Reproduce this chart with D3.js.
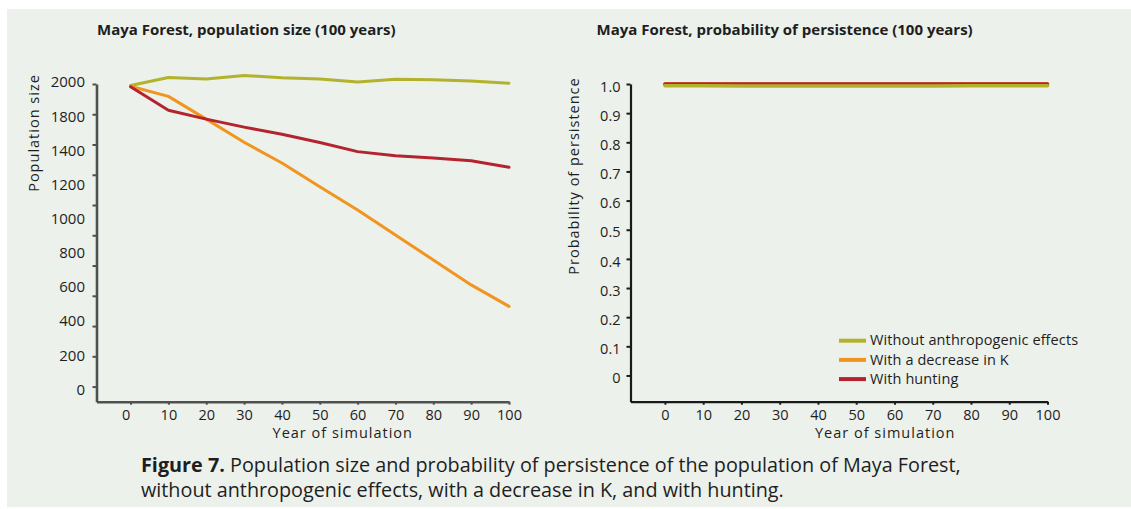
<!DOCTYPE html>
<html>
<head>
<meta charset="utf-8">
<script src="https://cdn.jsdelivr.net/npm/d3@7"></script>
<style>
  html, body { margin: 0; padding: 0; background: #ffffff; }
  svg { display: block; }
  text { font-family: "Open Sans", "Noto Sans", sans-serif; fill: #1e1e1e; }
</style>
</head>
<body>
<svg id="fig" width="1131" height="509"></svg>
<script>
// ---- data ----
const years = [0, 10, 20, 30, 40, 50, 60, 70, 80, 90, 100];

// population size over 100 years
const popWithout  = [1990, 2043, 2033, 2056, 2041, 2033, 2014, 2031, 2028, 2020, 2005];
const popDecreaseK = [1985, 1918, 1768, 1615, 1478, 1321, 1167, 1002, 837, 672, 530];
const popHunting  = [1982, 1826, 1768, 1715, 1668, 1613, 1553, 1525, 1511, 1492, 1450];

// probability of persistence over 100 years
const probWithout  = [0.994, 0.994, 0.993, 0.993, 0.993, 0.993, 0.993, 0.993, 0.994, 0.994, 0.994];
const probDecreaseK = [1.0, 1.0, 1.0, 1.0, 1.0, 1.0, 1.0, 1.0, 1.0, 1.0, 1.0];
const probHunting  = [1.0, 1.0, 1.0, 1.0, 1.0, 1.0, 1.0, 1.0, 1.0, 1.0, 1.0];

// tick values and labels
const popTicks = [0, 200, 400, 600, 800, 1000, 1200, 1400, 1600, 1800, 2000];
const popTickLabels = ["2000", "1800", "1400", "1200", "1000", "800", "600", "400", "200", "0"];
const probTicks = [0, 0.1, 0.2, 0.3, 0.4, 0.5, 0.6, 0.7, 0.8, 0.9, 1.0];
const yearTicks = [0, 10, 20, 30, 40, 50, 60, 70, 80, 90, 100];

const seriesNames = ["Without anthropogenic effects", "With a decrease in K", "With hunting"];
const seriesColors = ["#b3b22c", "#f0951f", "#b3242e"];

// ---- drawing ----
const svg = d3.select("#fig");

svg.append("rect")
  .attr("x", 7).attr("y", 9)
  .attr("width", 1131 - 7).attr("height", 507 - 9)
  .attr("fill", "#ecf1eb");

function drawPanel(opts) {
  const g = svg.append("g");
  const x = d3.scaleLinear().domain([-9, 100]).range(opts.xRange);
  const y = d3.scaleLinear().domain(opts.yDomain).range(opts.yRange);

  // title
  g.append("text")
    .attr("x", opts.titleX).attr("y", 34.5)
    .attr("font-size", 15).attr("font-weight", 700)
    .text(opts.title);

  // x axis
  const xAxis = d3.axisBottom(x).tickValues(yearTicks).tickSizeInner(3).tickSizeOuter(0).tickPadding(5);
  const gx = g.append("g")
    .attr("transform", `translate(0,${opts.yRange[0]})`)
    .call(xAxis);
  gx.select(".domain").attr("stroke", opts.axisColor).attr("stroke-width", opts.axisWidth);
  gx.selectAll(".tick line").attr("stroke", opts.axisColor).attr("stroke-width", 2);
  gx.selectAll(".tick text").attr("font-size", 14.5).attr("fill", "#1e1e1e")
    .attr("font-family", "'Open Sans', sans-serif");

  // y axis
  const yAxis = d3.axisLeft(y).tickValues(opts.yTicks).tickSizeInner(4).tickSizeOuter(0).tickPadding(6)
    .tickFormat(opts.yTickFormat);
  const gy = g.append("g")
    .attr("transform", `translate(${opts.xRange[0]},0)`)
    .call(yAxis);
  gy.select(".domain").attr("stroke", opts.axisColor).attr("stroke-width", opts.axisWidth);
  gy.selectAll(".tick line").attr("stroke", opts.axisColor).attr("stroke-width", 2);
  gy.selectAll(".tick text").attr("font-size", 14.5).attr("fill", "#1e1e1e").attr("dy", "0.55em")
    .attr("font-family", "'Open Sans', sans-serif");

  // axis titles
  g.append("text")
    .attr("x", (x(0) + x(100)) / 2 + opts.xTitleShift).attr("y", opts.yRange[0] + 36)
    .attr("text-anchor", "middle").attr("font-size", 14.5).attr("letter-spacing", 1)
    .text("Year of simulation");
  g.append("text")
    .attr("transform", `translate(${opts.yTitleX},${opts.yTitleY}) rotate(-90)`)
    .attr("text-anchor", "middle").attr("font-size", 14.5).attr("letter-spacing", 1)
    .text(opts.yTitle);

  // lines
  const line = d3.line().x((d, i) => x(years[i])).y(d => y(d));
  opts.order.forEach(k => {
    g.append("path")
      .datum(opts.series[k])
      .attr("fill", "none")
      .attr("stroke", seriesColors[k])
      .attr("stroke-width", opts.lineWidth)
      .attr("stroke-linejoin", "round")
      .attr("stroke-linecap", "round")
      .attr("d", line);
  });
  return { g, x, y, gx };
}

// left panel: population size
const left = drawPanel({
  title: "Maya Forest, population size (100 years)",
  titleX: 97,
  xRange: [96.5, 509],
  yDomain: [-100, 2000],
  yRange: [401.7, 84],
  yTicks: popTicks,
  yTickFormat: () => "",
  axisColor: "#505050",
  axisWidth: 2.6,
  xTitleShift: 23,
  yTitle: "Population size",
  yTitleX: 39, yTitleY: 133,
  series: [popWithout, popDecreaseK, popHunting],
  order: [0, 1, 2],
  lineWidth: 3
});
left.gx.selectAll(".tick text").filter(d => d === 0).attr("dx", -5);

// population tick labels, evenly spread along the axis
const labelPos = d3.scalePoint()
  .domain(popTickLabels)
  .range([left.y(2000) - 2, left.y(0) + 2.7]);
left.g.append("g").selectAll("text")
  .data(popTickLabels)
  .join("text")
  .attr("x", 85).attr("y", d => labelPos(d))
  .attr("dy", "0.36em")
  .attr("text-anchor", "end")
  .attr("font-size", 15)
  .text(d => d);

// right panel: probability of persistence
const right = drawPanel({
  title: "Maya Forest, probability of persistence (100 years)",
  titleX: 596.5,
  xRange: [630.5, 1047.5],
  yDomain: [-0.09, 1],
  yRange: [401.7, 84],
  yTicks: probTicks,
  yTickFormat: d => d === 0 ? "0" : d3.format(".1f")(d),
  axisColor: "#1a1a1a",
  axisWidth: 2.2,
  xTitleShift: 29,
  yTitle: "Probability of persistence",
  yTitleX: 579, yTitleY: 176,
  series: [probWithout, probDecreaseK, probHunting],
  order: [1, 2, 0],
  lineWidth: 3.5
});
right.g.selectAll(".tick text").attr("dy", "0.5em");
right.gx.selectAll(".tick text").attr("dy", "0.71em");

// legend
const legend = right.g.append("g").attr("transform", "translate(839,340.7)");
seriesNames.forEach((name, i) => {
  const row = legend.append("g").attr("transform", `translate(0,${i * 19.2})`);
  row.append("line")
    .attr("x1", 0).attr("x2", 27).attr("y1", 0).attr("y2", 0)
    .attr("stroke", seriesColors[i]).attr("stroke-width", 4);
  row.append("text")
    .attr("x", 31).attr("y", 0).attr("dy", "0.33em")
    .attr("font-size", 14.5).attr("letter-spacing", 0.1)
    .text(name);
});

// caption
const caption = svg.append("text").attr("x", 141).attr("y", 472).attr("font-size", 19.8);
caption.append("tspan").attr("font-weight", 700).text("Figure 7.");
caption.append("tspan").text(" Population size and probability of persistence of the population of Maya Forest,");
svg.append("text").attr("x", 141).attr("y", 497).attr("font-size", 19.8)
  .text("without anthropogenic effects, with a decrease in K, and with hunting.");
</script>
</body>
</html>
